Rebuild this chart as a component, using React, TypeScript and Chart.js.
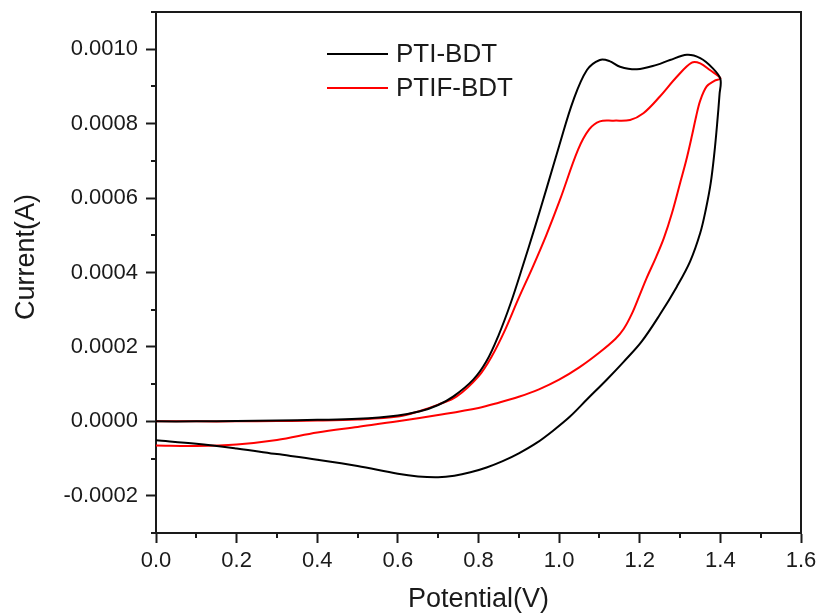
import React, { useEffect, useRef } from "react";
import { Chart, registerables } from "chart.js";

Chart.register(...registerables);

// PTI-BDT: forward scan (0 -> 1.4 V) then reverse scan (1.4 -> 0 V)
const ptiPotential = [
  0, 0.1, 0.2, 0.3, 0.4, 0.5, 0.6, 0.655, 0.7, 0.738, 0.787, 0.82, 0.85, 0.88, 0.91, 0.94, 0.97, 1.0,
  1.035, 1.069, 1.101, 1.125, 1.151, 1.193, 1.242, 1.275, 1.317, 1.35, 1.38, 1.4,
  1.398, 1.392, 1.385, 1.376, 1.364, 1.35, 1.325, 1.292, 1.25, 1.205, 1.16, 1.118, 1.07, 1.027, 0.985,
  0.944, 0.9, 0.86, 0.82, 0.78, 0.74, 0.7, 0.65, 0.6, 0.5, 0.4, 0.3, 0.2, 0.1, 0,
];
const ptiCurrent = [
  0, 0, 0.000001, 0.000002, 0.000004, 0.000007, 0.000016, 0.000027, 0.000044, 0.000067, 0.000112,
  0.000162, 0.000232, 0.000318, 0.000418, 0.000522, 0.00063, 0.00074,
  0.000862, 0.000944, 0.000971, 0.000968, 0.000953, 0.000946, 0.000958, 0.000971, 0.000985, 0.000976,
  0.00095, 0.00092,
  0.00088, 0.0008, 0.00072, 0.00064, 0.00057, 0.000506, 0.00043, 0.000362, 0.000287, 0.000215, 0.00016,
  0.000112, 0.00006, 0.000013, -0.000025,
  -0.000058, -0.000086, -0.000107, -0.000124, -0.000137, -0.000146, -0.00015, -0.000148, -0.000141,
  -0.00012, -0.000103, -0.000088, -0.000073, -0.00006, -0.000051,
];

// PTIF-BDT: forward scan (0 -> 1.4 V) then reverse scan (1.4 -> 0 V)
const ptifPotential = [
  0, 0.1, 0.2, 0.3, 0.4, 0.5, 0.6, 0.655, 0.7, 0.746, 0.8, 0.833, 0.866, 0.898, 0.935, 0.968, 1.002,
  1.047, 1.075, 1.101, 1.135, 1.176, 1.209, 1.25, 1.292, 1.329, 1.35, 1.374, 1.4,
  1.385, 1.366, 1.35, 1.34, 1.33, 1.315, 1.3, 1.28, 1.26, 1.24, 1.217, 1.2, 1.18, 1.16, 1.14, 1.1,
  1.05, 1.0, 0.95, 0.9, 0.85, 0.8, 0.7, 0.6, 0.5, 0.4, 0.3, 0.2, 0.1, 0,
];
const ptifCurrent = [
  0, 0, 0, 0.000001, 0.000002, 0.000005, 0.000013, 0.000028, 0.000045, 0.000067, 0.000121, 0.000175,
  0.000246, 0.000327, 0.000416, 0.0005, 0.000595,
  0.00073, 0.000785, 0.000806, 0.000808, 0.00081, 0.000828, 0.000873, 0.000926, 0.000964, 0.000962,
  0.000944, 0.000922,
  0.000915, 0.0009, 0.000862, 0.00082, 0.00077, 0.0007, 0.00064, 0.00056, 0.000493, 0.00044, 0.000385,
  0.00034, 0.000288, 0.000248, 0.000222, 0.000185,
  0.000145, 0.000112, 0.000086, 0.000066, 0.00005, 0.000036, 0.000017, 0.0, -0.000015, -0.00003,
  -0.00005, -0.000062, -0.000066, -0.000065,
];

const xMajorTicks = [0, 0.2, 0.4, 0.6, 0.8, 1.0, 1.2, 1.4, 1.6];
const xMinorTicks = [0.1, 0.3, 0.5, 0.7, 0.9, 1.1, 1.3, 1.5];
const yMajorTicks = [-0.0002, 0, 0.0002, 0.0004, 0.0006, 0.0008, 0.001];
const yMinorTicks = [-0.0003, -0.0001, 0.0001, 0.0003, 0.0005, 0.0007, 0.0009, 0.0011];

const seriesLabels = ["PTI-BDT", "PTIF-BDT"];
const seriesColors = ["#000000", "#ff0000"];
const xTitle = "Potential(V)";
const yTitle = "Current(A)";

const FONT = "'Liberation Sans', Arial, sans-serif";
const INK = "#1a1a1a";

const toPoints = (xs: number[], ys: number[]) => xs.map((x, i) => ({ x, y: ys[i] }));

const framePlugin = {
  id: "frameAndMinor",
  afterDraw(chart: any) {
    const { ctx, chartArea } = chart;
    const { left, right, top, bottom } = chartArea;
    const xs = chart.scales.x;
    const ys = chart.scales.y;
    ctx.save();
    ctx.strokeStyle = INK;
    ctx.lineWidth = 2;
    ctx.beginPath();
    ctx.moveTo(left, top);
    ctx.lineTo(right, top);
    ctx.lineTo(right, bottom);
    ctx.stroke();
    ctx.beginPath();
    xMinorTicks.forEach((v) => {
      const px = Math.round(xs.getPixelForValue(v));
      ctx.moveTo(px, bottom);
      ctx.lineTo(px, bottom + 5);
    });
    yMinorTicks.forEach((v) => {
      const py = Math.round(ys.getPixelForValue(v));
      ctx.moveTo(left - 5, py);
      ctx.lineTo(left, py);
    });
    ctx.stroke();
    // y-axis title
    ctx.save();
    ctx.translate(27, 257);
    ctx.rotate(-Math.PI / 2);
    ctx.font = `27px ${FONT}`;
    ctx.fillStyle = INK;
    ctx.textAlign = "center";
    ctx.textBaseline = "middle";
    ctx.fillText(yTitle, 0, 0);
    ctx.restore();
    ctx.restore();
  },
};

const legendPlugin = {
  id: "insideLegend",
  afterDraw(chart: any) {
    const { ctx } = chart;
    const rows = [54, 88];
    ctx.save();
    ctx.font = `26px ${FONT}`;
    ctx.textBaseline = "middle";
    ctx.textAlign = "left";
    chart.data.datasets.forEach((ds: any, i: number) => {
      const y = rows[i];
      ctx.strokeStyle = ds.borderColor;
      ctx.lineWidth = 2;
      ctx.beginPath();
      ctx.moveTo(327, y);
      ctx.lineTo(388, y);
      ctx.stroke();
      ctx.fillStyle = INK;
      ctx.fillText(ds.label, 396, y + 1);
    });
    ctx.restore();
  },
};

export default function App() {
  const ref = useRef<HTMLCanvasElement | null>(null);

  useEffect(() => {
    document.body.style.margin = "0";
    const canvas = ref.current;
    if (!canvas) return;
    const chart = new Chart(canvas, {
      type: "scatter",
      data: {
        datasets: [
          {
            label: seriesLabels[0],
            data: toPoints(ptiPotential, ptiCurrent),
            borderColor: seriesColors[0],
            backgroundColor: seriesColors[0],
            showLine: true,
            pointRadius: 0,
            borderWidth: 2,
            tension: 0.35,
          },
          {
            label: seriesLabels[1],
            data: toPoints(ptifPotential, ptifCurrent),
            borderColor: seriesColors[1],
            backgroundColor: seriesColors[1],
            showLine: true,
            pointRadius: 0,
            borderWidth: 2,
            tension: 0.35,
          },
        ],
      },
      options: {
        responsive: false,
        animation: false,
        devicePixelRatio: 1,
        layout: { padding: { top: 12, right: 18, left: 0, bottom: 0 } },
        plugins: {
          legend: { display: false },
          tooltip: { enabled: false },
        },
        scales: {
          x: {
            type: "linear",
            min: 0,
            max: 1.6,
            afterFit: (s: any) => {
              s.height = 80;
              s.paddingLeft = 0;
              s.paddingRight = 0;
            },
            afterBuildTicks: (s: any) => {
              s.ticks = xMajorTicks.map((v) => ({ value: v }));
            },
            ticks: {
              font: { family: FONT, size: 22 },
              color: INK,
              padding: 5,
              maxRotation: 0,
              autoSkip: false,
              callback: (v: any) => Number(v).toFixed(1),
            },
            grid: {
              drawOnChartArea: false,
              drawTicks: true,
              tickLength: 10,
              tickWidth: 2,
              tickColor: INK,
            },
            border: { display: true, color: INK, width: 2 },
            title: {
              display: true,
              text: xTitle,
              font: { family: FONT, size: 27, lineHeight: 1 },
              color: INK,
              padding: { top: 0, bottom: 0 },
            },
          },
          y: {
            type: "linear",
            min: -0.0003,
            max: 0.0011,
            afterFit: (s: any) => {
              s.width = 156;
              s.paddingTop = 0;
              s.paddingBottom = 0;
            },
            afterBuildTicks: (s: any) => {
              s.ticks = yMajorTicks.map((v) => ({ value: v }));
            },
            ticks: {
              font: { family: FONT, size: 22 },
              color: INK,
              padding: 8,
              autoSkip: false,
              callback: (v: any) => Number(v).toFixed(4).replace("-0.0000", "0.0000"),
            },
            grid: {
              drawOnChartArea: false,
              drawTicks: true,
              tickLength: 10,
              tickWidth: 2,
              tickColor: INK,
            },
            border: { display: true, color: INK, width: 2 },
            title: { display: false },
          },
        },
      },
      plugins: [framePlugin, legendPlugin],
    });
    return () => chart.destroy();
  }, []);

  return (
    <div style={{ position: "fixed", left: 0, top: 0, width: 819, height: 613, background: "#fff" }}>
      <canvas ref={ref} width={819} height={613} style={{ width: 819, height: 613, display: "block" }} />
    </div>
  );
}
